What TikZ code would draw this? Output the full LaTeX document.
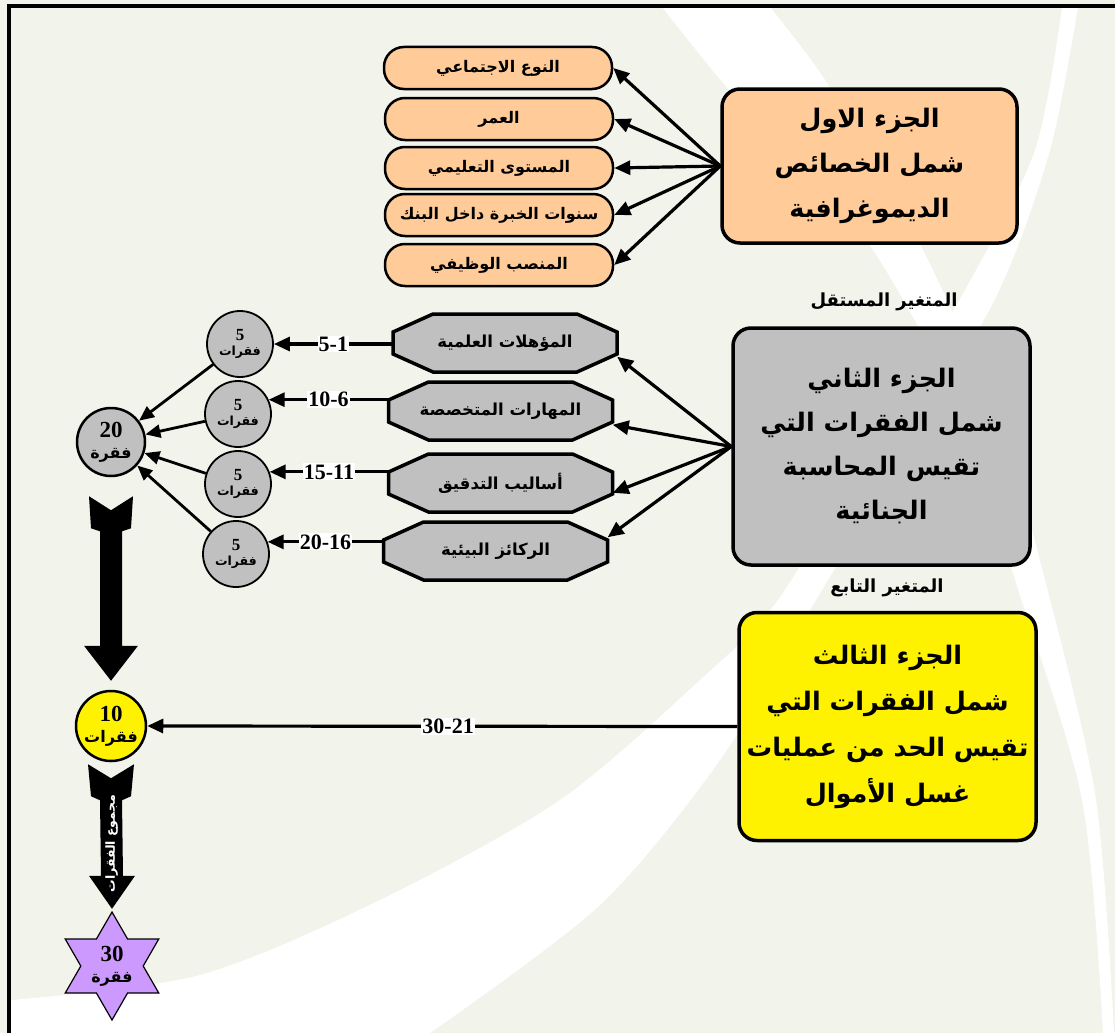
\documentclass[tikz,border=0pt]{standalone}
\usepackage{fontspec}
\setmainfont{Liberation Serif}
\newfontfamily\arabicfont[Script=Arabic]{DejaVu Sans}
\usetikzlibrary{arrows.meta,shapes.geometric,calc}
\TeXXeTstate=1
\definecolor{bg}{RGB}{242,243,235}
\definecolor{peach}{RGB}{255,204,153}
\definecolor{greyb}{RGB}{192,192,192}
\definecolor{purp}{RGB}{204,153,255}
\newcommand\ar[1]{{\arabicfont\bfseries\beginR #1\endR}}
\newcommand\fs[1]{\fontsize{#1}{#1}\selectfont}
\tikzset{
  mainbox/.style={draw, line width=3.5pt, rounded corners=18pt, align=center, inner sep=0pt,
    font=\fontsize{25.5}{45}\selectfont},
  pill/.style={draw, line width=2.5pt, fill=peach, rounded corners=20pt, minimum width=228pt,
    minimum height=42pt, inner sep=0pt, font=\fs{16}},
  octnode/.style={minimum width=224pt, minimum height=58pt, inner sep=0pt, font=\fs{16.5}},
  octline/.style={draw, fill=greyb, line width=3.5pt, line join=miter},
  smallc/.style={circle, draw, line width=1.8pt, fill=greyb, minimum size=66pt, inner sep=0pt,
    align=center, font=\fontsize{12.5}{15}\selectfont},
  bigc/.style={circle, draw, line width=2.5pt, minimum size=68pt, inner sep=0pt, align=center,
    font=\fontsize{16}{21}\selectfont},
  arr/.style={line width=3.2pt, -{Triangle[length=16pt,width=14pt]}},
  arrs/.style={line width=2.8pt, -{Triangle[length=15pt,width=13pt]}},
  lab/.style={fill=white, inner sep=1pt, font=\bfseries\fs{22}},
  varlab/.style={font=\fs{18}},
  blockarr/.style={fill=black}
}
\begin{document}
\begin{tikzpicture}[x=1pt,y=-1pt]
\useasboundingbox (0,0) rectangle (1115,1033);
% background
\fill[bg] (0,0) rectangle (1115,1033);
\fill[white] plot[smooth] coordinates {(662,7) (723,83) (800,170) (873,250) (960,410) (1015,580) (1082,800) (1103,1033)}
  -- plot[smooth] coordinates {(1114,1033) (1096,800) (1045,580) (998,420) (923,250) (870,170) (827,83) (770,7)} -- cycle;
\fill[white] plot[smooth] coordinates {(1062,7) (1035,150) (965,290) (880,430) (778,600) (700,680) (560,800) (380,900) (200,975) (11,1000)}
  -- (11,1033) -- plot[smooth] coordinates {(430,1033) (600,905) (720,760) (813,605) (900,460) (997,295) (1050,150) (1078,7)} -- cycle;
\draw[line width=4pt, line join=miter] (9,1033) -- (9,6) -- (1115,6);

% part 1
\node[mainbox, fill=peach, minimum width=295pt, minimum height=154pt] (part1) at (869.5,166)
  {\ar{الجزء الاول}\\\ar{شمل الخصائص}\\\ar{الديموغرافية}};
\node[pill] (p1) at (498,68) {\ar{النوع الاجتماعي}};
\node[pill] (p2) at (499,119) {\ar{العمر}};
\node[pill] (p3) at (499,168) {\ar{المستوى التعليمي}};
\node[pill] (p4) at (499,215) {\ar{سنوات الخبرة داخل البنك}};
\node[pill] (p5) at (499,265) {\ar{المنصب الوظيفي}};
\foreach \p in {p1,p2,p3,p4,p5} \draw[arr] (part1.west) -- (\p.east);

% part 2
\node[varlab] (v1) at (884,302) {\ar{المتغير المستقل}};
\node[mainbox, fill=greyb, minimum width=297pt, minimum height=237pt, font=\fontsize{25.5}{44}\selectfont] (part2) at (881.5,446.5)
  {\ar{الجزء الثاني}\\\ar{شمل الفقرات التي}\\\ar{تقيس المحاسبة}\\\ar{الجنائية}};

\newcommand\octo[3]{%
  \filldraw[octline] ($(#2)+(-112,-11)$) -- ($(#2)+(-112,11)$) -- ($(#2)+(-72,29)$) -- ($(#2)+(72,29)$)
    -- ($(#2)+(112,11)$) -- ($(#2)+(112,-11)$) -- ($(#2)+(72,-29)$) -- ($(#2)+(-72,-29)$) -- cycle;
  \node[octnode] (#1) at (#2) {#3};}
\octo{o1}{505,343}{\ar{المؤهلات العلمية}}
\octo{o2}{500.5,411}{\ar{المهارات المتخصصة}}
\octo{o3}{500.5,483}{\ar{أساليب التدقيق}}
\octo{o4}{495.5,551}{\ar{الركائز البيئية}}
\draw[arr] (part2.west) -- (o1.-7);
\draw[arr] (part2.west) -- (o2.-7);
\draw[arr] (part2.west) -- (o3.-5);
\draw[arr] (part2.west) -- (o4.7);

\node[smallc] (c1) at (240,344) {{\bfseries\fs{17}5}\\\ar{فقرات}};
\node[smallc] (c2) at (238,414) {{\bfseries\fs{17}5}\\\ar{فقرات}};
\node[smallc] (c3) at (238,484) {{\bfseries\fs{17}5}\\\ar{فقرات}};
\node[smallc] (c4) at (236,554) {{\bfseries\fs{17}5}\\\ar{فقرات}};
\draw[arr] (o1.west |- c1.east) -- (c1.east) node[lab, midway] {5-1};
\draw[arr] (o2.west |- c2.25) -- (c2.25) node[lab, midway] {10-6};
\draw[arr] (o3.west |- c3.21) -- (c3.21) node[lab, midway] {15-11};
\draw[arr] (o4.west |- c4.21) -- (c4.21) node[lab, midway] {20-16};

\node[bigc, fill=greyb] (big20) at (111,442) {{\bfseries\fs{23}20}\\\ar{فقرة}};
\foreach \c in {c1,c2,c3,c4} \draw[arrs] (\c) -- (big20);

% part 3
\node[varlab] (v2) at (887,588) {\ar{المتغير التابع}};
\node[mainbox, fill=yellow, minimum width=297pt, minimum height=228pt, font=\fontsize{25.5}{46}\selectfont] (part3) at (887.5,726.5)
  {\ar{الجزء الثالث}\\\ar{شمل الفقرات التي}\\\ar{تقيس الحد من عمليات}\\\ar{غسل الأموال}};
\node[bigc, fill=yellow, minimum size=70pt] (yc) at (111,726) {{\bfseries\fs{23}10}\\\ar{فقرات}};
\draw[arr] (part3.west) -- (yc.east) node[lab, pos=0.49] {30-21};

\node[star, star points=6, star point ratio=1.732, minimum size=108pt, draw, line width=1.2pt,
  fill=purp, inner sep=0pt, align=center, font=\fontsize{16}{21}\selectfont] (star) at (112,966)
  {{\bfseries\fs{23}30}\\\ar{فقرة}};

% block arrows
\coordinate (ta) at ($(big20.south)+(0,19)$);
\coordinate (ha) at ($(yc.north)+(0,-9)$);
\fill[blockarr] ($(ta)+(-22,0)$) -- ($(ta)+(0,14)$) -- ($(ta)+(22,0)$) -- ($(ta)+(20,32)$) -- ($(ta)+(11,35)$)
  -- ($(ha)+(11,-35)$) -- ($(ha)+(27,-35)$) -- (ha) -- ($(ha)+(-27,-35)$) -- ($(ha)+(-11,-35)$)
  -- ($(ta)+(-11,35)$) -- ($(ta)+(-20,32)$) -- cycle;
\coordinate (tb) at ($(yc.south)+(0,2)$);
\coordinate (hb) at ($(star.north)+(0,-2)$);
\fill[blockarr] ($(tb)+(-23,0)$) -- ($(tb)+(0,14)$) -- ($(tb)+(23,0)$) -- ($(tb)+(20,32)$) -- ($(tb)+(11,36)$)
  -- ($(hb)+(11,-33)$) -- ($(hb)+(23,-33)$) -- (hb) -- ($(hb)+(-23,-33)$) -- ($(hb)+(-11,-33)$)
  -- ($(tb)+(-11,36)$) -- ($(tb)+(-20,32)$) -- cycle;
\node[rotate=90, text=white, font=\fs{12.5}, inner sep=0pt] (sumlab) at ($(tb)!0.55!(hb)$) {\ar{مجموع الفقرات}};
\end{tikzpicture}
\end{document}
